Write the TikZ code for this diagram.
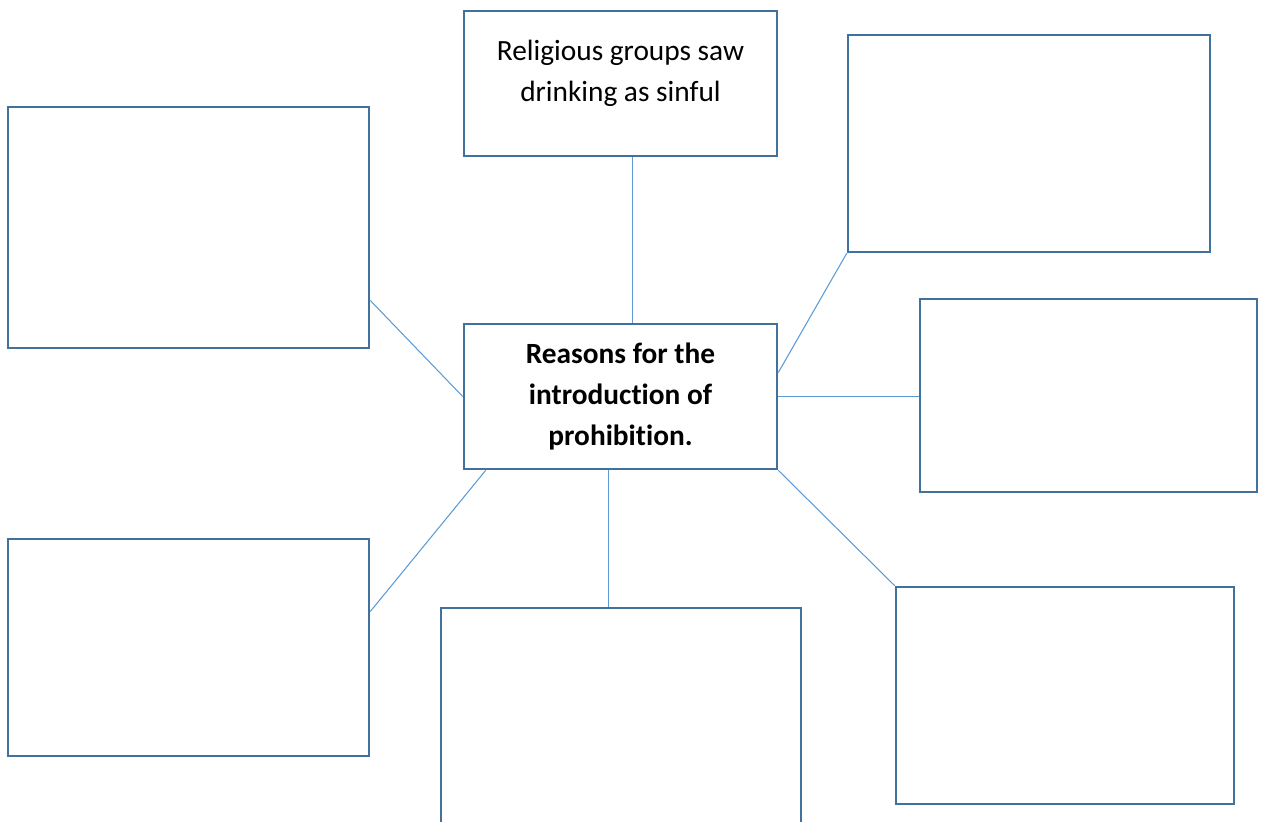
\documentclass[tikz,border=0pt]{standalone}
\usepackage{fontspec}
\setmainfont{Carlito}[Ligatures=NoCommon]
\usetikzlibrary{positioning}

\definecolor{boxblue}{HTML}{41719C}
\definecolor{linkblue}{HTML}{5B9BD5}

\begin{document}
\begin{tikzpicture}[
  x=0.02cm, y=-0.02cm,
  box/.style={draw=boxblue, line width=1.5pt, fill=white, rectangle, align=center, inner sep=0pt, font=\fontsize{16.7pt}{23.3pt}\selectfont},
  link/.style={draw=linkblue, line width=0.6pt},
]
\path[use as bounding box, clip] (0,0) rectangle (1263,821);

% === Central box ===
\node[box, minimum width=6.26cm, minimum height=2.9cm, font=\fontsize{16.7pt}{23.3pt}\selectfont\bfseries] (reasons) at (620.5,396.5) {Reasons for the\\introduction of\\prohibition.};

% === Surrounding boxes ===
\node[box, minimum width=6.26cm, minimum height=2.9cm, text depth=0.52cm] (religion) at (620.5,83.5) {Religious groups saw\\drinking as sinful};
\node[box, minimum width=7.24cm, minimum height=4.34cm] (upright) at (1029,143.5) {};
\node[box, minimum width=7.22cm, minimum height=4.82cm] (upleft) at (188.5,227.5) {};
\node[box, minimum width=6.74cm, minimum height=3.86cm] (midright) at (1088.5,395.5) {};
\node[box, minimum width=7.22cm, minimum height=4.34cm] (lowleft) at (188.5,647.5) {};
\node[box, minimum width=7.20cm, minimum height=4.82cm] (lowmid) at (621,728.5) {};
\node[box, minimum width=6.76cm, minimum height=4.34cm] (lowright) at (1065,695.5) {};

% === Links to the centre ===
\draw[link] ([xshift=0.24cm]religion.south) -- ([xshift=0.24cm]reasons.north);
\draw[link] ([yshift=-1.46cm]upleft.east) -- (reasons.west);
\draw[link] (upright.south west) -- ([yshift=0.48cm]reasons.east);
\draw[link] (reasons.east) -- (reasons.east -| midright.west);
\draw[link] ([xshift=0.46cm]reasons.south west) -- ([yshift=0.72cm]lowleft.east);
\draw[link] ([xshift=-0.24cm]reasons.south) -- ([xshift=-0.24cm]reasons.south |- lowmid.north);
\draw[link] (reasons.south east) -- (lowright.north west);

\end{tikzpicture}
\end{document}
